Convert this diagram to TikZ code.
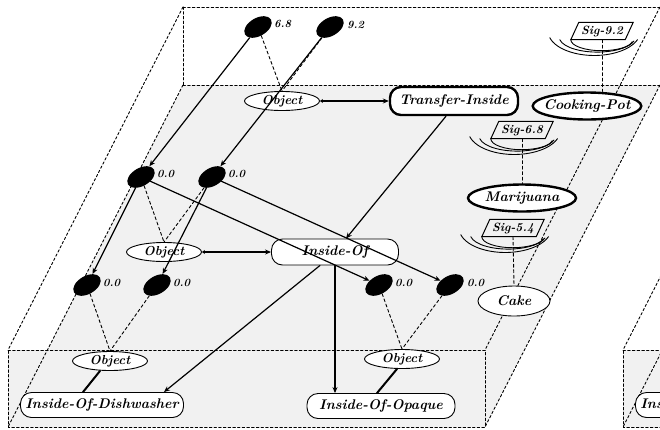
\documentclass[tikz,border=0pt]{standalone}
\usepackage{tikz}
\usetikzlibrary{calc,shapes.geometric,arrows.meta}
\newcommand{\lblfont}{\fontsize{14}{15}\selectfont\bfseries\itshape}
\newcommand{\sigwaves}[1]{%
	\draw[line width=1pt] ($(#1.south west)+(-3,0)$) -- ($(#1.north west)+(5,0)$) -- ($(#1.north east)+(3,0)$) -- ($(#1.south east)+(-5,0)$) -- cycle;
	\draw[line width=0.9pt] ($(#1.south west)+(-3,0)$) arc[start angle=180,end angle=10,x radius=31,y radius=11];
	\draw[line width=0.9pt] ($(#1.south west)+(-14,0)$) arc[start angle=170,end angle=15,x radius=38,y radius=15];
	\draw[line width=0.9pt] ($(#1.south west)+(-24,-2)$) arc[start angle=165,end angle=20,x radius=46,y radius=24];
}

\begin{document}
\begin{tikzpicture}[x=1pt,y=1pt,yscale=-1,line cap=round,>={Stealth[length=6pt,width=5pt]}]
	\tikzstyle{boxedge}=[dash pattern=on 2.5pt off 2.2pt,line width=0.9pt];
	\tikzstyle{edge}=[dash pattern=on 3pt off 2.5pt,line width=0.9pt];
	\tikzstyle{link}=[line width=1.2pt];
	\tikzstyle{twoway}=[line width=1.2pt,{Stealth[length=3pt,width=4pt]}-{Stealth[length=6pt,width=5pt]}];
	\tikzstyle{blob}=[ellipse,fill=black,inner sep=0pt,minimum width=30pt,minimum height=18pt,rotate=30];
	\tikzstyle{val}=[anchor=west,inner sep=0pt,font=\fontsize{11}{12}\selectfont\bfseries\itshape];
	\tikzstyle{obj}=[ellipse,draw,fill=white,line width=0.9pt,inner xsep=-5pt,inner ysep=0pt,minimum width=75pt,minimum height=19pt,font=\lblfont];
	\tikzstyle{rel}=[rectangle,rounded corners=11pt,draw,fill=white,line width=0.9pt,inner sep=0pt,minimum height=25pt,font=\lblfont];
	\tikzstyle{sig}=[inner sep=0pt,minimum width=56pt,minimum height=17pt,font=\fontsize{12}{13}\selectfont\bfseries\itshape];

	\useasboundingbox (0,0) rectangle (660,429);
	\clip (0,0) rectangle (660,429);

	% the two slabs
	\foreach \dx in {0,615} {
	\begin{scope}[xshift=\dx]
	\fill[gray!11] (183,85) -- (660,85) -- (485,427) -- (8,427) -- (8,350) -- (47,350) -- cycle;
	\draw[boxedge] (183,7) -- (662,7);
	\draw[boxedge] (183,85) -- (662,85);
	\draw[boxedge] (183,7) -- (183,85);
	\draw[boxedge] (183,7) -- (8,350);
	\draw[boxedge] (183,85) -- (8,427);
	\draw[boxedge] (660,7) -- (485,350);
	\draw[boxedge] (660,85) -- (485,427);
	\draw[boxedge] (8,350) -- (485,350) -- (485,427) -- (8,427) -- cycle;
	\end{scope}
	}

	% values
	\node[blob] (a1) at (258,27) {};
	\node[val] (a1v) at (274,24) {6.8};
	\node[blob] (a2) at (330,27) {};
	\node[val] (a2v) at (347,25) {9.2};
	\node[blob] (b1) at (141,177) {};
	\node[val] (b1v) at (157,174) {0.0};
	\node[blob] (b2) at (212,177) {};
	\node[val] (b2v) at (228,174) {0.0};
	\node[blob] (c1) at (87,285) {};
	\node[val] (c1v) at (103,283) {0.0};
	\node[blob] (c2) at (157,285) {};
	\node[val] (c2v) at (173,283) {0.0};
	\node[blob] (d1) at (379,285) {};
	\node[val] (d1v) at (395,283) {0.0};
	\node[blob] (d2) at (450,285) {};
	\node[val] (d2v) at (467,283) {0.0};

	% concepts
	\node[obj,font=\fontsize{13}{14}\selectfont\bfseries\itshape] (ob1) at (282,101) {Object};
	\node[obj,font=\fontsize{13}{14}\selectfont\bfseries\itshape] (ob2) at (164,252) {Object};
	\node[obj,font=\fontsize{13}{14}\selectfont\bfseries\itshape] (ob3) at (110,361) {Object};
	\node[obj,font=\fontsize{13}{14}\selectfont\bfseries\itshape] (ob4) at (402,359) {Object};
	\node[rel,line width=2.4pt,minimum width=128pt,minimum height=28pt] (ti) at (454,101) {Transfer-Inside};
	\node[rel,minimum width=127pt,minimum height=26pt] (io) at (335,252) {Inside-Of};
	\node[rel,minimum width=163pt] (dw) at (102,405) {Inside-Of-Dishwasher};
	\node[rel,minimum width=148pt] (op) at (381,406) {Inside-Of-Opaque};
	\node[rel,minimum width=163pt] (dw2) at (717,405) {Inside-Of-Dishwasher};
	\node[obj,line width=2.4pt,minimum width=105pt,minimum height=27pt] (cp) at (587,106) {Cooking-Pot};
	\node[obj,line width=2.4pt,minimum width=108pt,minimum height=27pt] (mj) at (522,198) {Marijuana};
	\node[obj,minimum width=72pt,minimum height=30pt] (ck) at (514,301) {Cake};

	% signals
	\node[sig] (s92) at (602,31) {Sig-9.2};
	\sigwaves{s92}
	\node[sig] (s68) at (522,130) {Sig-6.8};
	\sigwaves{s68}
	\node[sig] (s54) at (513,228) {Sig-5.4};
	\sigwaves{s54}

	\draw[edge] (a1) -- (ob1.north);
	\draw[edge] (a2) -- (ob1.north);
	\draw[edge] (b1) -- (ob2.north);
	\draw[edge] (b2) -- (ob2.north);
	\draw[edge] (c1) -- (ob3.north);
	\draw[edge] (c2) -- (ob3.north);
	\draw[edge] (d1) -- (ob4.north);
	\draw[edge] (d2) -- (ob4.north);
	\draw[edge] (s92.south) -- (s92.south |- cp.north);
	\draw[edge] (s68.south) -- (mj.north);
	\draw[edge] (s54.south) -- (ck.north);

	\draw[link,->] (a1) -- (b1);
	\draw[link,->] (b1) -- (c1);
	\draw[link,->] (a2) -- (b2);
	\draw[link,->] (b2) -- (c2);
	\draw[link,->] (b1) -- (d1);
	\draw[link,->] (b2) -- (d2);
	\draw[twoway] (ob1) -- (ti);
	\draw[twoway] (ob2) -- (io);
	\draw[link,->] ($(ti.south)+(-8,0)$) -- (io);
	\draw[link,->] ($(io.south)+(-15,0)$) -- ($(dw.north east)+(-20,0)$);
	\draw[link,->] (io.south) -- (io.south |- op.north);
	\draw[line width=2pt] ($(ob3.south)+(-10,0)$) -- ($(dw.north)+(-19,0)$);
	\draw[line width=2pt] ($(ob4.south)+(-5,0)$) -- ($(op.north)+(-4,0)$);
\end{tikzpicture}
\end{document}
